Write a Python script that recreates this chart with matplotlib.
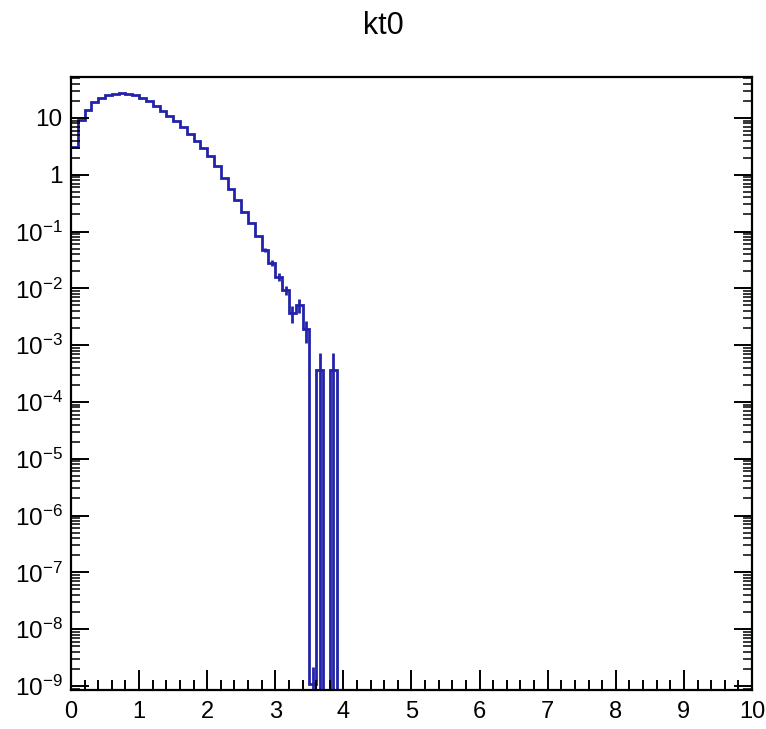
import numpy as np
import matplotlib
matplotlib.use("Agg")
import matplotlib.pyplot as plt
from matplotlib.ticker import FixedLocator, FuncFormatter, LogLocator, MultipleLocator, NullFormatter

plt.rcParams['font.family'] = ['Liberation Sans', 'DejaVu Sans']
plt.rcParams['mathtext.fontset'] = 'custom'
plt.rcParams['mathtext.rm'] = 'Liberation Sans'
plt.rcParams['mathtext.it'] = 'Liberation Sans:italic'
plt.rcParams['mathtext.bf'] = 'Liberation Sans:bold'

title = "kt0"
bin_edges = np.linspace(0.0, 10.0, 101)
# bin contents (bins of width 0.1, 0..3.9), remaining bins are empty
counts_head = [3.1, 9.3, 14.0, 19.0, 22.5, 25.0, 26.5, 27.0, 26.5, 25.0,
               22.5, 19.5, 16.5, 13.5, 11.0, 8.8, 6.8, 5.2, 3.9, 2.9,
               2.1, 1.4, 0.88, 0.56, 0.36, 0.22, 0.14, 0.082, 0.048, 0.028,
               0.016, 0.0093, 0.0037, 0.0051, 0.0019, 1.1e-9, 3.6e-4, 0.0, 3.6e-4, 0.0]
errors_head = [0.0] * 28 + [0.0042, 0.0032, 0.0024, 0.0018, 0.0012, 0.0014, 0.0008,
                            1.1e-9, 3.6e-4, 0.0, 3.6e-4, 0.0]
counts = np.array(counts_head + [0.0] * (100 - len(counts_head)))
errors = np.array(errors_head + [0.0] * (100 - len(errors_head)))

x_ticks = list(range(0, 11))
y_decades = [10.0 ** k for k in range(-9, 2)]

color = "#2222aa"

fig = plt.figure(figsize=(7.66, 7.29), dpi=100)
ax = fig.add_axes([0.0927, 0.0535, 0.889, 0.8409])
ax.set_yscale("log")

ax.stairs(counts, bin_edges, baseline=None, color=color, linewidth=2.0)
centers = 0.5 * (bin_edges[:-1] + bin_edges[1:])
m = errors > 0
ax.vlines(centers[m], counts[m] - errors[m], counts[m] + errors[m], color=color, linewidth=2.0)

ax.set_xlim(0, 10)
ax.set_ylim(8.5e-10, 52.6)

ax.xaxis.set_major_locator(FixedLocator(x_ticks))
ax.xaxis.set_minor_locator(MultipleLocator(0.2))
ax.yaxis.set_major_locator(FixedLocator(y_decades))
ax.yaxis.set_minor_locator(LogLocator(base=10, subs=np.arange(2, 10), numticks=100))
ax.yaxis.set_minor_formatter(NullFormatter())

def yfmt(v, pos):
    e = int(round(np.log10(v)))
    if e == 1:
        return "10"
    if e == 0:
        return "1"
    return r"$10^{%d}$" % e
ax.yaxis.set_major_formatter(FuncFormatter(yfmt))
ax.xaxis.set_major_formatter(FuncFormatter(lambda v, p: "%d" % v))

ax.tick_params(axis="x", which="major", direction="in", length=14.5, width=1.4,
               labelsize=17, pad=8, top=False, bottom=True)
ax.tick_params(axis="x", which="minor", direction="in", length=7.2, width=1.4, top=False)
ax.tick_params(axis="y", which="major", direction="in", length=13, width=1.4,
               labelsize=17.5, pad=6, right=True, left=True)
ax.tick_params(axis="y", which="minor", direction="in", length=6.5, width=1.1, right=True)

for s in ax.spines.values():
    s.set_linewidth(1.6)

fig.suptitle(title, fontsize=22, y=0.985, va="top")

fig.savefig("out.png", dpi=100)
